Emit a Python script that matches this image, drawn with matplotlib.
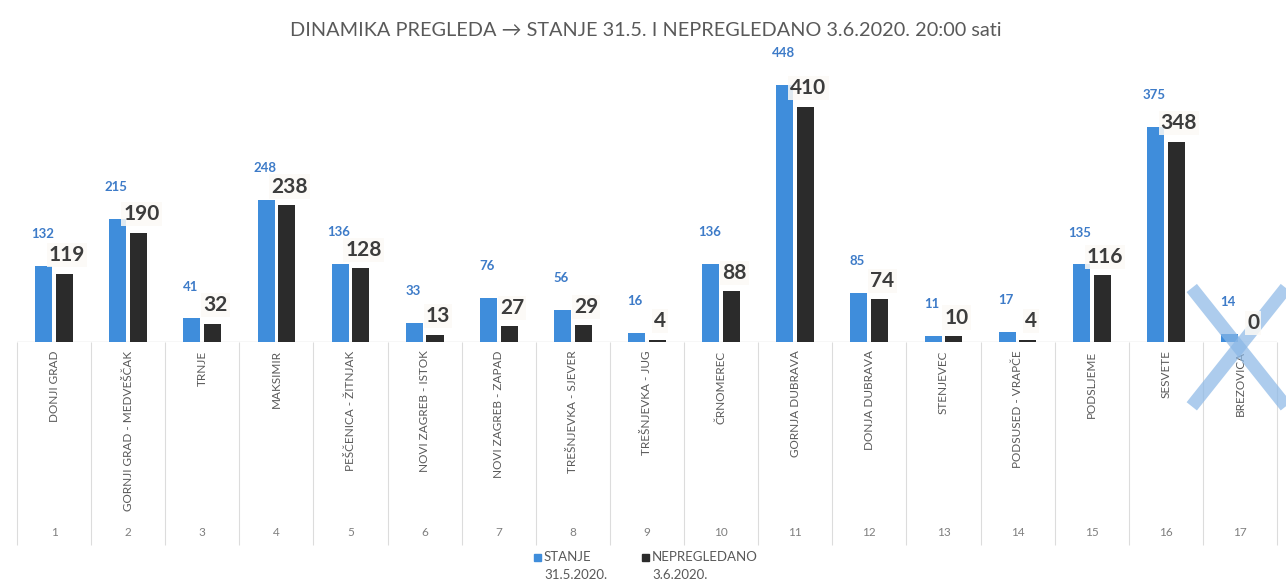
import matplotlib
matplotlib.use("Agg")
import matplotlib.pyplot as plt
from matplotlib.patches import Rectangle
from matplotlib.transforms import blended_transform_factory
import numpy as np

plt.rcParams['font.family'] = ['Lato', 'DejaVu Sans']

# gradske cetvrti
cetvrti = ['DONJI GRAD', 'GORNJI GRAD - MEDVEŠČAK', 'TRNJE', 'MAKSIMIR',
           'PEŠČENICA - ŽITNJAK', 'NOVI ZAGREB - ISTOK', 'NOVI ZAGREB - ZAPAD',
           'TREŠNJEVKA - SJEVER', 'TREŠNJEVKA - JUG', 'ČRNOMEREC',
           'GORNJA DUBRAVA', 'DONJA DUBRAVA', 'STENJEVEC', 'PODSUSED - VRAPČE',
           'PODSLJEME', 'SESVETE', 'BREZOVICA']
redni_br = [str(i) for i in range(1, 18)]
stanje = [132, 215, 41, 248, 136, 33, 76, 56, 16, 136, 448, 85, 11, 17, 135, 375, 14]
nepregledano = [119, 190, 32, 238, 128, 13, 27, 29, 4, 88, 410, 74, 10, 4, 116, 348, 0]

naslov = 'DINAMIKA PREGLEDA → STANJE 31.5. I NEPREGLEDANO 3.6.2020. 20:00 sati'
leg_stanje = ('STANJE', '31.5.2020.')
leg_neprg = ('NEPREGLEDANO', '3.6.2020.')

plava = '#3f8ddb'
crna = '#2b2b2b'
siva = '#595959'

W, H = 1286, 586
fig = plt.figure(figsize=(W / 100, H / 100), dpi=100)
ax = fig.add_axes([17 / W, (H - 342) / H, 1260 / W, 282 / H])

x = np.arange(len(cetvrti))
bw = 0.23
off = 0.14
ax.bar(x - off, stanje, bw, color=plava, zorder=2)
ax.bar(x + off, nepregledano, bw, color=crna, zorder=2)

ax.set_xlim(-0.5, len(cetvrti) - 0.5)
ax.set_ylim(0, 491)
for s in ax.spines.values():
    s.set_visible(False)
ax.set_xticks([])
ax.set_yticks([])
ax.axhline(0, color='#d9d9d9', lw=1, zorder=1)

# vrijednosti iznad stupaca
for xi, v in zip(x, stanje):
    ax.annotate(str(v), (xi - off, v), xytext=(-1, 23), textcoords='offset points',
                ha='center', va='center', fontsize=9.5, fontweight='bold',
                color='#3d7bc8', zorder=5)
for xi, v in zip(x, nepregledano):
    ax.annotate(str(v), (xi + off, v), xytext=(2, 13.5), textcoords='offset points',
                ha='center', va='center', fontsize=15, fontweight='bold', color='#3c3c3c',
                bbox=dict(boxstyle='square,pad=0.1', fc='#fcfaf6', ec='none', alpha=0.85),
                zorder=5)

# os kategorija u dvije razine
tr = blended_transform_factory(ax.transData, ax.transAxes)
granice = np.arange(len(cetvrti) + 1) - 0.5
ax.vlines(granice, -0.72, 0, transform=tr, color='#dcdcdc', lw=0.8, clip_on=False)
for xi, ime, br in zip(x, cetvrti, redni_br):
    ax.text(xi, -0.03, ime, transform=tr, rotation=90, ha='center', va='top',
            fontsize=8.5, color=siva)
    ax.text(xi, -0.675, br, transform=tr, ha='center', va='center',
            fontsize=8.5, color='#7f7f7f')

# precrtana Brezovica
zadnja = len(cetvrti) - 1
ax.plot([zadnja - 0.65, zadnja + 0.62], [94, -112], color='#8ab7e6', lw=9.5,
        alpha=0.7, solid_capstyle='butt', clip_on=False, zorder=4)
ax.plot([zadnja - 0.65, zadnja + 0.62], [-112, 94], color='#8ab7e6', lw=9.5,
        alpha=0.7, solid_capstyle='butt', clip_on=False, zorder=4)

fig.text(0.502, 1 - 30 / H, naslov, ha='center', va='center', fontsize=14.3, color=siva)

# legenda
for (px, boja, (l1, l2)) in [(534, plava, leg_stanje), (642, crna, leg_neprg)]:
    fig.patches.append(Rectangle((px / W, 1 - 561 / H), 7 / W, 7 / H,
                                 transform=fig.transFigure, color=boja))
    fig.text((px + 10) / W, 1 - 557 / H, l1, ha='left', va='center', fontsize=9.5, color=siva)
    fig.text((px + 10) / W, 1 - 575 / H, l2, ha='left', va='center', fontsize=9.5, color=siva)

fig.savefig('out.png', dpi=100, facecolor='white')
